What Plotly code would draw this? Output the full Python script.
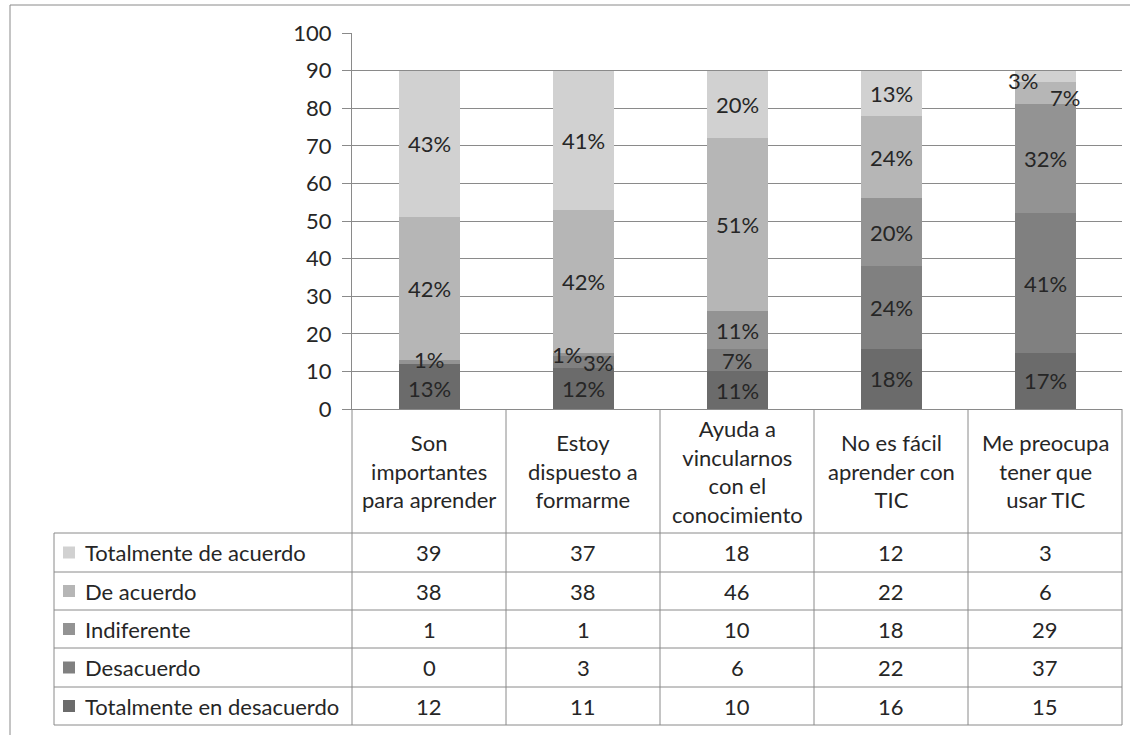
import plotly.graph_objects as go

W, H = 1140, 735

categories = ["Son importantes para aprender", "Estoy dispuesto a formarme",
              "Ayuda a vincularnos con el conocimiento", "No es fácil aprender con TIC",
              "Me preocupa tener que usar TIC"]
category_labels = ["Son<br>importantes<br>para aprender", "Estoy<br>dispuesto a<br>formarme",
                   "Ayuda a<br>vincularnos<br>con el<br>conocimiento", "No es fácil<br>aprender con<br>TIC",
                   "Me preocupa<br>tener que<br>usar TIC"]

series_names = ["Totalmente de acuerdo", "De acuerdo", "Indiferente", "Desacuerdo",
                "Totalmente en desacuerdo"]

totalmente_de_acuerdo = [39, 37, 18, 12, 3]
de_acuerdo = [38, 38, 46, 22, 6]
indiferente = [1, 1, 10, 18, 29]
desacuerdo = [0, 3, 6, 22, 37]
totalmente_en_desacuerdo = [12, 11, 10, 16, 15]

pct_totalmente_de_acuerdo = ["43%", "41%", "20%", "13%", "3%"]
pct_de_acuerdo = ["42%", "42%", "51%", "24%", "7%"]
pct_indiferente = ["1%", "1%", "11%", "20%", "32%"]
pct_desacuerdo = ["", "3%", "7%", "24%", "41%"]
pct_totalmente_en_desacuerdo = ["13%", "12%", "11%", "18%", "17%"]

y_ticks = [0, 10, 20, 30, 40, 50, 60, 70, 80, 90, 100]

values = [totalmente_de_acuerdo, de_acuerdo, indiferente, desacuerdo, totalmente_en_desacuerdo]
pcts = [pct_totalmente_de_acuerdo, pct_de_acuerdo, pct_indiferente, pct_desacuerdo,
        pct_totalmente_en_desacuerdo]
colors = ["#d1d1d1", "#b6b6b6", "#939393", "#808080", "#6b6b6b"]

# label nudges (pixels) where Excel moved overlapping labels
label_shift = {(2, 0): (0, 3), (4, 0): (0, -2),
               (2, 1): (-16, 0), (3, 1): (15, 0), (0, 4): (-22, -4), (1, 4): (20, -4)}

FONT = "Lato"
FS = 22
TXT = "#262626"
LINE = "#8a8a8a"


def px(x):
    return x / W


def py(y):
    return (H - y) / H


fig = go.Figure()
# stack from bottom
for si in reversed(range(5)):
    fig.add_trace(go.Bar(x=categories, y=values[si], name=series_names[si],
                         marker=dict(color=colors[si], line=dict(width=0)),
                         showlegend=False, hoverinfo="skip"))

annotations = []
# bar labels at segment centres
for ci in range(5):
    base = 0
    for si in reversed(range(5)):
        v = values[si][ci]
        center = base + v / 2
        base += v
        t = pcts[si][ci]
        if not t:
            continue
        dx, dy = label_shift.get((si, ci), (0, 0))
        annotations.append(dict(x=categories[ci], y=center, xref="x", yref="y", text=t,
                                showarrow=False, xshift=dx, yshift=dy,
                                font=dict(family=FONT, size=FS, color=TXT)))

# table geometry (pixels)
plot_l, plot_r = 352, 1122
y0_px, y100_px = 409, 33
table_l = 54
row_lines = [533, 572, 610, 648, 687, 725]
col_w = (plot_r - plot_l) / 5

# header category labels
for ci in range(5):
    annotations.append(dict(x=categories[ci], y=py((y0_px + row_lines[0]) / 2), xref="x",
                            yref="paper", text=category_labels[ci], showarrow=False,
                            yanchor="middle", align="center",
                            font=dict(family=FONT, size=FS, color=TXT)))

shapes = []
# outer frame
shapes.append(dict(type="line", xref="paper", yref="paper", x0=px(10), x1=px(1130),
                   y0=py(5), y1=py(5), line=dict(color=LINE, width=1)))
shapes.append(dict(type="line", xref="paper", yref="paper", x0=px(10), x1=px(10),
                   y0=py(5), y1=py(740), line=dict(color=LINE, width=1)))
# horizontal table lines
for yl in row_lines:
    shapes.append(dict(type="line", xref="paper", yref="paper", x0=px(table_l), x1=px(plot_r),
                       y0=py(yl), y1=py(yl), line=dict(color=LINE, width=1)))
# vertical table lines
for k in range(6):
    xl = plot_l + k * col_w
    shapes.append(dict(type="line", xref="paper", yref="paper", x0=px(xl), x1=px(xl),
                       y0=py(y0_px), y1=py(row_lines[-1]), line=dict(color=LINE, width=1)))
shapes.append(dict(type="line", xref="paper", yref="paper", x0=px(table_l), x1=px(table_l),
                   y0=py(row_lines[0]), y1=py(row_lines[-1]), line=dict(color=LINE, width=1)))

# table rows
for si in range(5):
    top, bot = row_lines[si], row_lines[si + 1]
    cy = (top + bot) / 2
    shapes.append(dict(type="rect", xref="paper", yref="paper", x0=px(63), x1=px(75),
                       y0=py(cy - 6), y1=py(cy + 6), fillcolor=colors[si], line=dict(width=0)))
    annotations.append(dict(x=px(83), y=py(cy), xref="paper", yref="paper", text=series_names[si],
                            showarrow=False, xanchor="left", yanchor="middle",
                            font=dict(family=FONT, size=FS, color=TXT)))
    for ci in range(5):
        annotations.append(dict(x=categories[ci], y=py(cy), xref="x", yref="paper",
                                text=str(values[si][ci]), showarrow=False, yanchor="middle",
                                font=dict(family=FONT, size=FS, color=TXT)))

fig.update_layout(
    width=W, height=H,
    margin=dict(l=0, r=0, t=0, b=0, autoexpand=False),
    paper_bgcolor="white", plot_bgcolor="white",
    barmode="stack", bargap=1 - 61 / col_w,
    xaxis=dict(domain=[px(plot_l), px(plot_r)], showticklabels=False, ticks="",
               showgrid=False, showline=True, linecolor=LINE, linewidth=1,
               range=[-0.5, 4.5], fixedrange=True),
    yaxis=dict(domain=[py(y0_px), py(y100_px)], range=[0, 100], tickvals=y_ticks,
               showgrid=True, gridcolor=LINE, gridwidth=1, showline=True, linecolor=LINE,
               linewidth=1, ticks="outside", ticklen=9, tickcolor=LINE, ticklabelstandoff=6,
               tickfont=dict(family=FONT, size=FS, color=TXT), zeroline=False),
    shapes=shapes, annotations=annotations,
)

fig.write_html("out.html", config={"displayModeBar": False},
               post_script="document.body.style.margin='0';document.body.style.padding='0';"
                           "document.body.style.overflow='hidden';")
